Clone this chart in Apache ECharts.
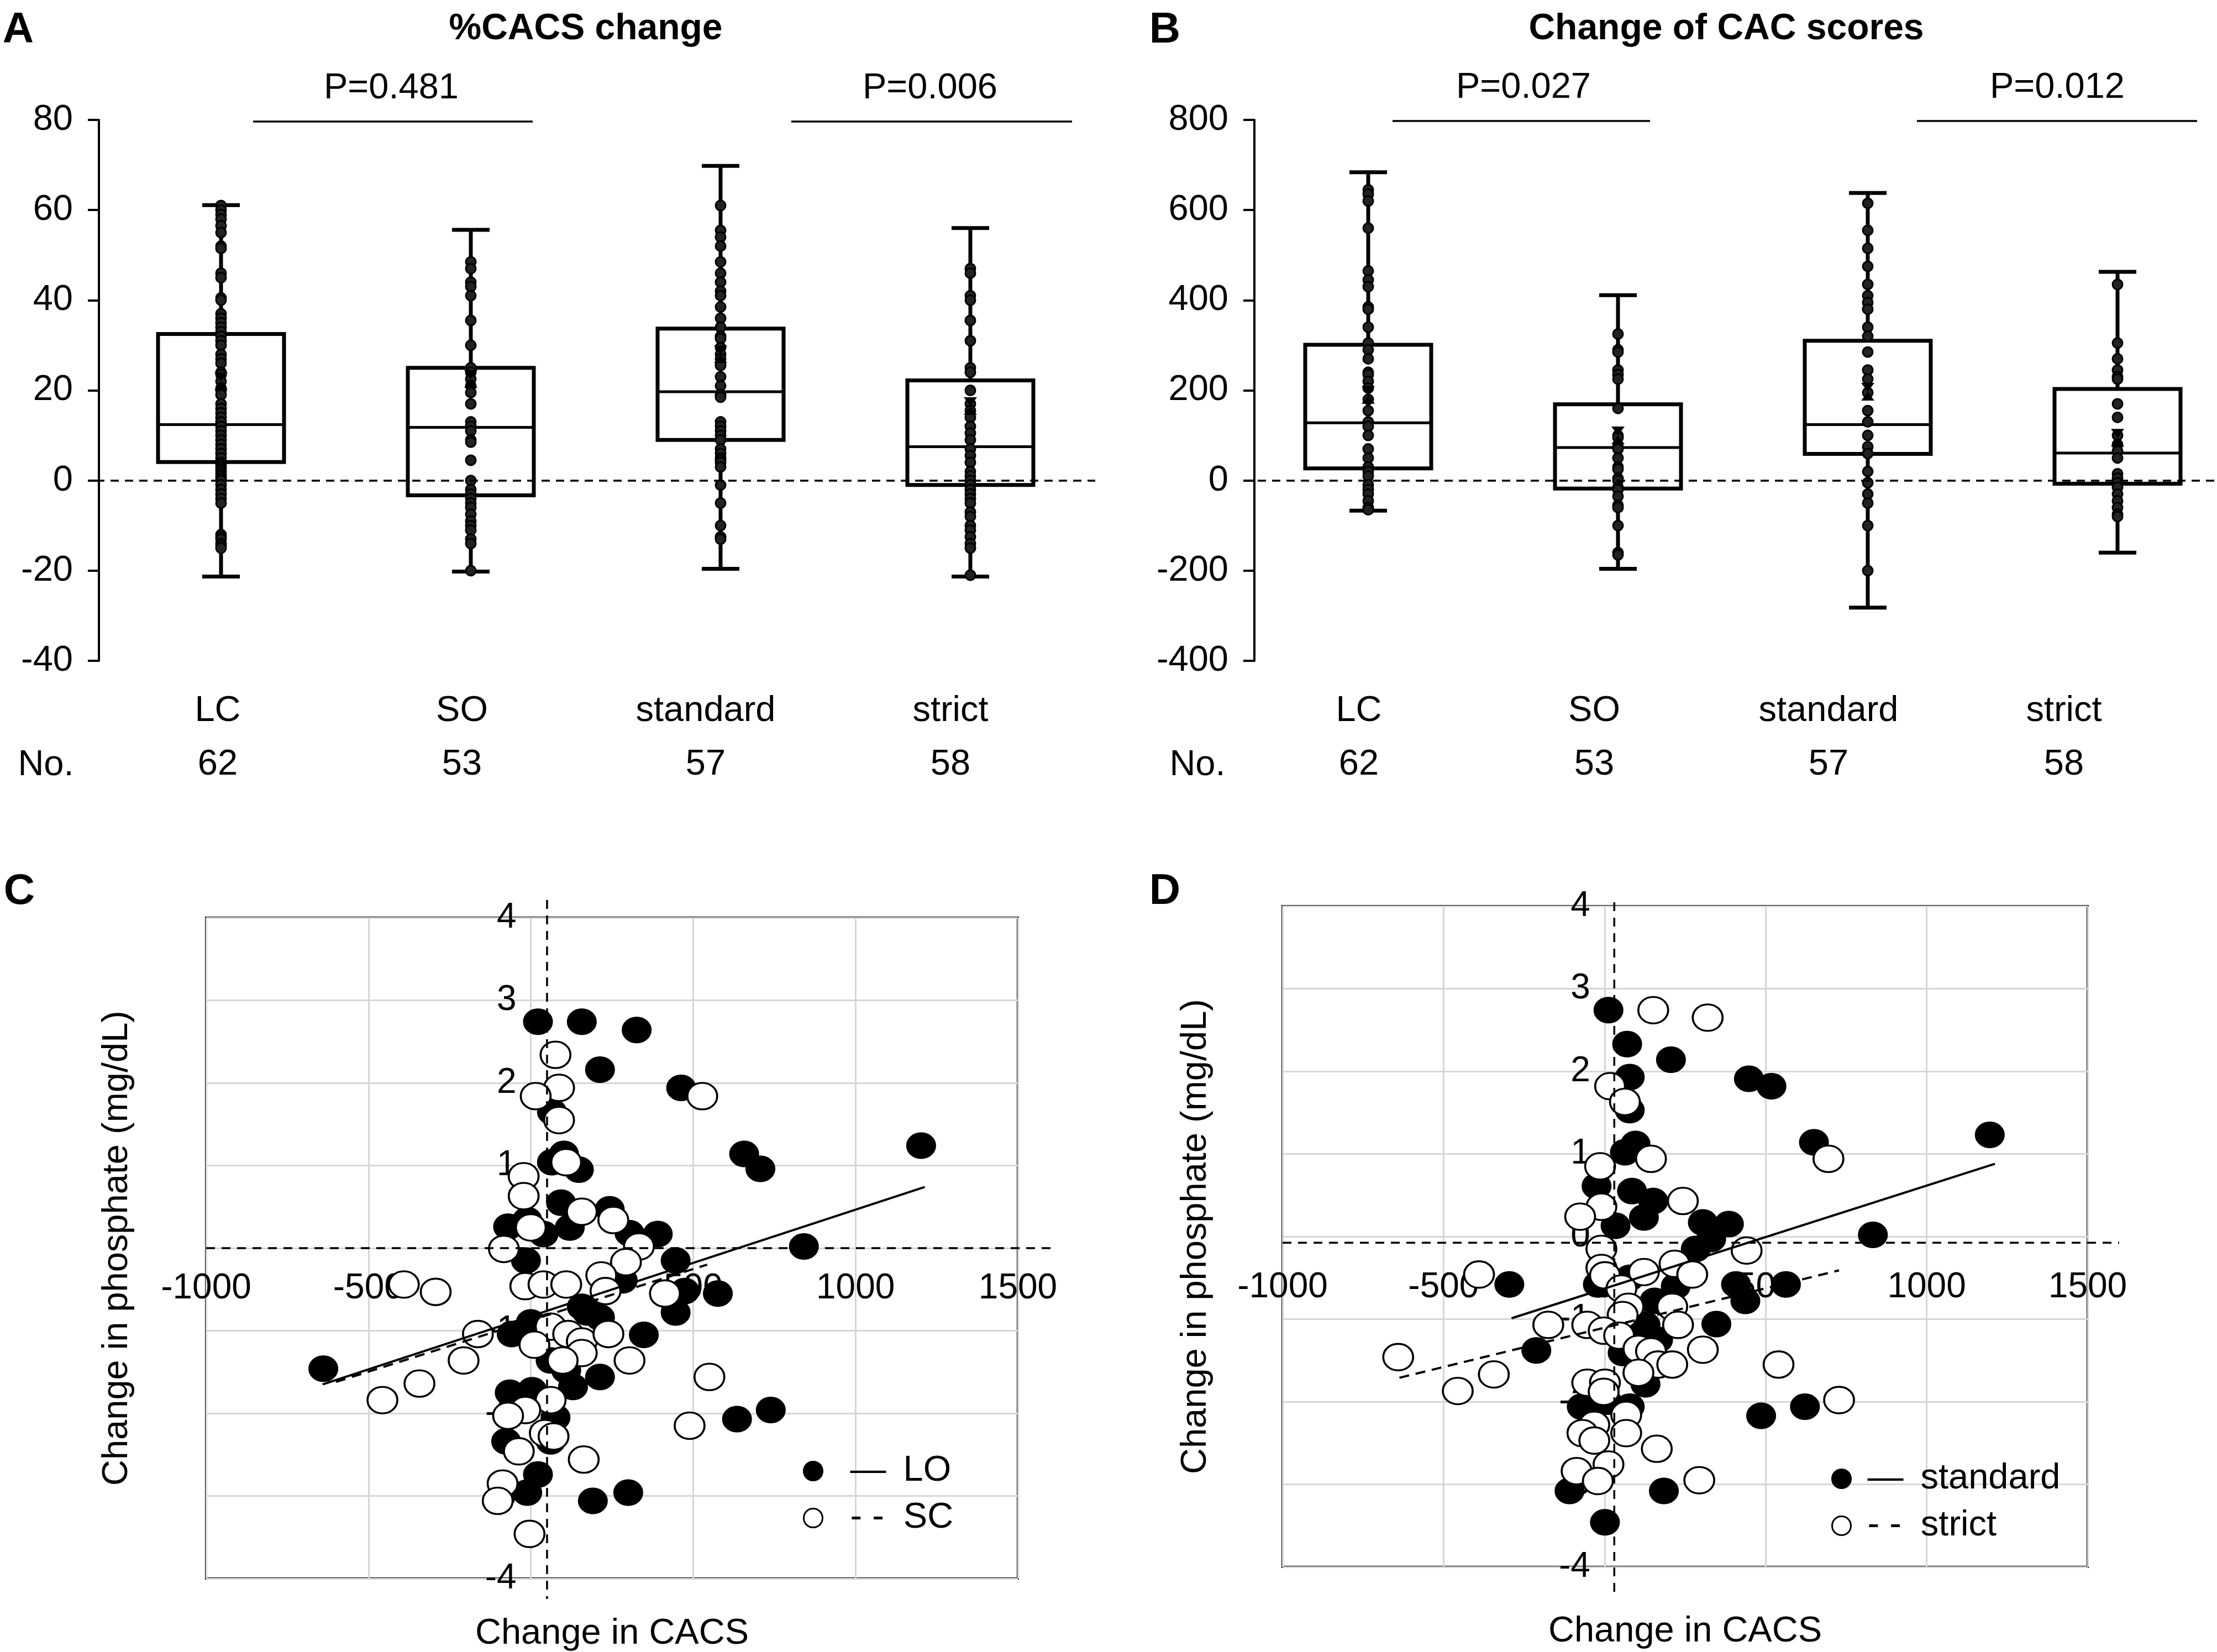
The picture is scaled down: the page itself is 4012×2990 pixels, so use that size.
<!DOCTYPE html>
<html>
<head>
<meta charset="utf-8">
<script src="https://cdn.jsdelivr.net/npm/echarts@6/dist/echarts.min.js"></script>
<style>html,body{margin:0;padding:0;background:#fff}#c{width:4012px;height:2990px}</style>
</head>
<body>
<div id="c"></div>
<script>
// ---------------- DATA ----------------
const groups = ['LC', 'SO', 'standard', 'strict'];
const counts = [62, 53, 57, 58];

// Panel A: %CACS change, box stats [lowWhisker, Q1, median, Q3, highWhisker]
const pctBoxLC = [-21.3, 4.1, 12.4, 32.5, 61.1];
const pctBoxSO = [-20.2, -3.3, 11.8, 25, 55.6];
const pctBoxStd = [-19.6, 9, 19.7, 33.7, 69.8];
const pctBoxStrict = [-21.3, -1, 7.5, 22.2, 56];
const pctMeans = [22, 22.5, 28, 16.5];
const pctLC = [61, 60, 59, 58, 56.5, 55, 52, 51.5, 46, 45, 40.5, 40, 37, 36, 35, 34, 33, 32, 31, 30, 28, 27, 26, 24, 23.5, 22, 20.5, 20, 19, 17, 16, 15, 14, 13, 12, 11, 10, 9, 8, 7, 6, 5, 4, 3.5, 3, 2.5, 2, 1.5, 1, 0.5, 0, -1, -2, -3, -4, -5, -12, -12.5, -13, -14, -14.5, -15];
const pctSO = [48.5, 47, 44, 43, 41, 35.5, 30, 25, 24, 22.5, 21, 19.5, 17, 13, 12, 11, 9, 8.5, 4.5, 0, -2, -3, -4, -5, -6, -7.5, -9, -10, -11, -13, -14, -20];
const pctStd = [61, 55.5, 54, 52, 48.5, 46, 44, 42, 41, 38.5, 36, 34, 32, 31.5, 29.5, 28, 27, 25.5, 23, 21, 19, 18.5, 13, 12, 11, 10, 9, 7, 6, 5, 4.5, 4, 3, -1, -5, -10, -12.5, -13];
const pctStrict = [47, 46, 41, 40, 35.5, 31, 25, 24, 20, 17, 15.5, 14, 12, 10.5, 9, 7, 5.5, 4, 2, 1, 0, -1, -2, -3, -4, -5, -7, -8, -10, -11, -12.5, -14, -15, -21];

// Panel B: change of CAC scores
const cacBoxLC = [-67, 27, 128, 301, 684];
const cacBoxSO = [-196, -18, 73, 169, 411];
const cacBoxStd = [-282, 59, 124, 310, 638];
const cacBoxStrict = [-160, -7, 61, 203, 463];
const cacMeans = [190, 100, 197, 95];
const cacLC = [645, 635, 620, 560, 465, 445, 430, 385, 380, 340, 305, 290, 270, 240, 235, 220, 205, 180, 155, 130, 120, 100, 70, 50, 30, 20, 10, -10, -20, -30, -45, -60, -65];
const cacSO = [325, 290, 285, 245, 235, 225, 160, 100, 95, 75, 70, 50, 30, 25, 5, 0, -15, -20, -35, -55, -60, -100, -160, -165];
const cacStd = [615, 555, 515, 475, 435, 410, 395, 380, 340, 320, 285, 245, 225, 195, 155, 130, 100, 75, 60, 20, -5, -30, -50, -100, -200];
const cacStrict = [435, 305, 270, 245, 230, 225, 170, 140, 100, 80, 65, 50, 15, 5, -5, -15, -30, -45, -60, -75, -80];

const pValsA = ['P=0.481', 'P=0.006'];
const pValsB = ['P=0.027', 'P=0.012'];

// Panel C: [change in CACS, change in phosphate]
const cLO = [[22,2.74],[157,2.74],[326,2.64],[213,2.16],[463,1.94],[1202,1.24],[657,1.14],[707,0.96],[65,1.65],[102,1.14],[65,1.04],[148,0.95],[93,0.55],[120,0.25],[-70,0.26],[-11,0.34],[39,0.17],[243,0.47],[304,0.18],[391,0.17],[841,0.02],[446,-0.15],[-15,-0.15],[283,-0.39],[474,-0.52],[576,-0.55],[446,-0.78],[157,-0.71],[213,-0.84],[348,-1.05],[-59,-1.04],[0,-0.9],[-639,-1.46],[61,-1.36],[130,-1.68],[213,-1.56],[-65,-1.75],[4,-1.72],[635,-2.07],[739,-1.96],[76,-2.05],[-76,-2.34],[61,-2.34],[22,-2.74],[-11,-2.96],[191,-3.06],[300,-2.96],[174,-0.78],[109,-1.48]];
const cSC = [[76,2.34],[87,1.94],[15,1.84],[528,1.84],[87,1.55],[109,1.04],[-22,0.87],[-22,0.63],[0,0.25],[157,0.44],[254,0.34],[333,0.02],[-83,-0.01],[293,-0.17],[217,-0.33],[-391,-0.44],[-293,-0.53],[-17,-0.46],[39,-0.44],[109,-0.44],[230,-0.52],[413,-0.55],[-163,-1.04],[-207,-1.36],[61,-0.95],[11,-1.17],[115,-1.04],[157,-1.13],[239,-1.04],[157,-1.27],[98,-1.36],[304,-1.36],[550,-1.56],[-343,-1.64],[-457,-1.84],[61,-1.84],[-17,-1.96],[-70,-2.03],[489,-2.15],[43,-2.24],[70,-2.28],[-37,-2.46],[163,-2.56],[-87,-2.85],[-102,-3.06],[-4,-3.46]];
const cLOFit = [[-641,-1.65],[1213,0.74]];
const cSCFit = [[-600,-1.62],[543,-0.2]];
const cRefX = 50, cRefY = 0;

// Panel D
const dStd = [[12,2.74],[70,2.33],[206,2.14],[78,1.93],[448,1.91],[518,1.82],[78,1.53],[1196,1.23],[650,1.14],[96,1.12],[63,1.02],[-25,0.61],[85,0.55],[151,0.43],[122,0.23],[34,0.13],[305,0.17],[386,0.15],[331,-0.03],[833,0.02],[283,-0.15],[-296,-0.58],[-21,-0.58],[78,-0.5],[221,-0.6],[408,-0.58],[563,-0.58],[437,-0.78],[155,-0.78],[347,-1.06],[127,-1.07],[166,-1.25],[-212,-1.38],[56,-1.41],[127,-1.79],[-71,-2.06],[8,-2.0],[78,-2.06],[486,-2.17],[622,-2.06],[-109,-3.08],[184,-3.08],[1,-3.46],[100,-1.04]];
const dStrict = [[151,2.74],[320,2.65],[17,1.82],[63,1.63],[695,0.94],[144,0.94],[-14,0.85],[-10,0.36],[-76,0.24],[243,0.43],[441,-0.17],[-10,-0.15],[-10,-0.38],[217,-0.33],[272,-0.46],[-390,-0.46],[122,-0.43],[1,-0.47],[52,-0.63],[74,-0.85],[210,-0.85],[56,-0.95],[228,-1.07],[-175,-1.07],[-54,-1.07],[-3,-1.14],[45,-1.2],[105,-1.36],[144,-1.39],[305,-1.37],[-641,-1.46],[-344,-1.67],[166,-1.55],[210,-1.55],[540,-1.55],[105,-1.65],[-54,-1.77],[1,-1.77],[-456,-1.87],[-3,-1.88],[728,-1.98],[67,-2.16],[-32,-2.28],[-69,-2.38],[67,-2.38],[-32,-2.47],[162,-2.57],[12,-2.76],[-87,-2.84],[-21,-2.96],[294,-2.95]];
const dStdFit = [[-289,-0.99],[1212,0.88]];
const dStrictFit = [[-637,-1.71],[728,-0.41]];
const dRefX = 30, dRefY = -0.076;

// ---------------- CHART ----------------
const FONT = "'Liberation Sans', Arial, Helvetica, sans-serif";
const ellipse = 'path://M0,50C0,22 22,0 50,0C78,0 100,22 100,50C100,78 78,100 50,100C22,100 0,78 0,50Z';
const hourglass = 'path://M0,0L100,0L50,50L100,100L0,100L50,50Z';

const chart = echarts.init(document.getElementById('c'), null, {renderer: 'canvas', width: 4012, height: 2990});

function boxData(stats) { return stats.map((s, i) => [i].concat(s)); }
function dotData(lists) { const out = []; lists.forEach((l, i) => l.forEach(v => out.push([i, v]))); return out; }
function meanData(m) { return m.map((v, i) => [i, v]); }

function boxRender(params, api) {
  const i = api.value(0);
  const lo = api.coord([i, api.value(1)]);
  const q1 = api.coord([i, api.value(2)]);
  const md = api.coord([i, api.value(3)]);
  const q3 = api.coord([i, api.value(4)]);
  const hi = api.coord([i, api.value(5)]);
  const cx = lo[0], hw = 114, cw = 34;
  const st = {stroke: '#000', lineWidth: 7, fill: null};
  return {type: 'group', children: [
    {type: 'rect', shape: {x: cx - hw, y: q3[1], width: 2 * hw, height: q1[1] - q3[1]}, style: {stroke: '#000', lineWidth: 7, fill: 'rgba(0,0,0,0)'}},
    {type: 'line', shape: {x1: cx - hw, y1: md[1], x2: cx + hw, y2: md[1]}, style: {stroke: '#000', lineWidth: 5, fill: null}},
    {type: 'line', shape: {x1: cx, y1: q3[1], x2: cx, y2: hi[1]}, style: st},
    {type: 'line', shape: {x1: cx, y1: q1[1], x2: cx, y2: lo[1]}, style: st},
    {type: 'line', shape: {x1: cx - cw, y1: hi[1], x2: cx + cw, y2: hi[1]}, style: st},
    {type: 'line', shape: {x1: cx - cw, y1: lo[1], x2: cx + cw, y2: lo[1]}, style: st}
  ]};
}

function catAxis(gi, pads) {
  const rich = {};
  pads.forEach((p, i) => {
    rich['n' + i] = {fontSize: 65, fontFamily: FONT, color: '#000', lineHeight: 97, padding: [0, p, 0, 0]};
    rich['c' + i] = {fontSize: 65, fontFamily: FONT, color: '#000', lineHeight: 97, padding: [0, p, 0, 0]};
  });
  return {
    type: 'category', gridIndex: gi, data: groups,
    axisLine: {show: false, onZero: false}, axisTick: {show: false}, splitLine: {show: false},
    axisLabel: {margin: 43, interval: 0, formatter: (v, i) => '{n' + i + '|' + v + '}\n{c' + i + '|' + counts[i] + '}', rich: rich}
  };
}
function boxYAxis(gi, min, max, interval, offset) {
  return {
    type: 'value', gridIndex: gi, min: min, max: max, interval: interval, offset: offset,
    axisLine: {show: true, onZero: false, lineStyle: {color: '#000', width: 4}},
    axisTick: {show: true, length: 20, lineStyle: {color: '#000', width: 4}},
    splitLine: {show: false},
    axisLabel: {fontSize: 65, fontFamily: FONT, color: '#000', margin: 47, formatter: v => String(v)}
  };
}
// scatter axes cross at zero: placed with offsets from the grid edge
function scX(gi, offset, margin, nameGap) {
  return {
    type: 'value', gridIndex: gi, min: -1000, max: 1500, interval: 500, position: 'bottom', offset: offset,
    axisLine: {show: false, onZero: false}, axisTick: {show: false},
    splitLine: {show: true, lineStyle: {color: '#d6d6d6', width: 3}},
    axisLabel: {fontSize: 64, fontFamily: FONT, color: '#000', margin: margin, formatter: v => String(v)},
    name: 'Change in CACS', nameLocation: 'middle', nameGap: nameGap,
    nameTextStyle: {fontSize: 65, fontFamily: FONT, color: '#000'}
  };
}
function scY(gi, offset, nameGap) {
  return {
    type: 'value', gridIndex: gi, min: -4, max: 4, interval: 1, position: 'left', offset: offset,
    axisLine: {show: false, onZero: false}, axisTick: {show: false},
    splitLine: {show: true, lineStyle: {color: '#d6d6d6', width: 3}},
    axisLabel: {fontSize: 64, fontFamily: FONT, color: '#000', margin: 26, formatter: v => String(v)},
    name: 'Change in phosphate (mg/dL)', nameLocation: 'middle', nameGap: nameGap,
    nameTextStyle: {fontSize: 65, fontFamily: FONT, color: '#000'}
  };
}

const dotStyle = {color: '#222', borderColor: '#000', borderWidth: 3, opacity: 1};
const zeroLine = {silent: true, symbol: 'none', label: {show: false}, lineStyle: {color: '#000', width: 3.5, type: [15, 11]}, data: [{yAxis: 0}]};

function boxSeries(xi, stats, lists, means) {
  return [
    {type: 'custom', xAxisIndex: xi, yAxisIndex: xi, renderItem: boxRender, data: boxData(stats), encode: {x: 0, y: [1, 2, 3, 4, 5]}, z: 2},
    {type: 'scatter', xAxisIndex: xi, yAxisIndex: xi, data: dotData(lists), symbol: 'circle', symbolSize: 18, itemStyle: dotStyle, z: 3, markLine: zeroLine},
    {type: 'scatter', xAxisIndex: xi, yAxisIndex: xi, data: meanData(means), symbol: hourglass, symbolSize: [24, 32], itemStyle: {color: '#000', opacity: 1}, z: 4}
  ];
}
function ptSeries(xi, name, data, filled) {
  return {type: 'scatter', name: name, xAxisIndex: xi, yAxisIndex: xi, data: data, symbol: ellipse, symbolSize: [54, 48],
    itemStyle: filled ? {color: '#000', borderColor: '#000', borderWidth: 0, opacity: 1} : {color: '#fff', borderColor: '#000', borderWidth: 3.5, opacity: 1}, z: filled ? 3 : 4};
}
function fitSeries(xi, name, data, dashed) {
  return {type: 'line', name: name, xAxisIndex: xi, yAxisIndex: xi, data: data, symbol: 'none', showSymbol: false,
    lineStyle: {color: '#000', width: 4, type: dashed ? [18, 12] : 'solid'}, z: 5, silent: true};
}

function legendCfg(names, left, top, padL) {
  return {
    data: names.map(n => ({name: n, icon: ellipse})), orient: 'vertical', left: left, top: top,
    itemWidth: 34, itemHeight: 42, itemGap: 20, selectedMode: false,
    itemStyle: {borderWidth: 3},
    formatter: n => (n === names[0] ? '{sol|—}' : '{das|- -}') + '{n|' + n + '}',
    textStyle: {fontSize: 65, fontFamily: FONT, color: '#000', rich: {
      sol: {fontSize: 65, fontFamily: FONT, lineHeight: 76, padding: [0, 31, 0, padL]},
      das: {fontSize: 65, fontFamily: FONT, lineHeight: 76, padding: [0, 35, 0, padL]},
      n: {fontSize: 65, fontFamily: FONT, lineHeight: 76}
    }}
  };
}

function txt(t, x, y, size, bold) {
  return {type: 'text', x: x, y: y, silent: true, style: {text: t, fontSize: size, fontFamily: FONT, fontWeight: bold ? 'bold' : 'normal', fill: '#000', align: 'center', verticalAlign: 'middle', textAlign: 'center', textVerticalAlign: 'middle'}};
}
function hline(x1, x2, y) {
  return {type: 'line', silent: true, shape: {x1: x1, y1: y, x2: x2, y2: y}, style: {stroke: '#000', lineWidth: 3.5}};
}

// grid geometry for C and D
const gC = {left: 373, top: 1661, width: 1469, height: 1196};
const gD = {left: 2321, top: 1640, width: 1457, height: 1196};
const zeroOff = (g) => ({
  x: -(g.height / 2),                 // y = 0 sits in the middle of [-4, 4]
  y: -(g.width * 1000 / 2500)         // x = 0 sits 1000/2500 of the way across [-1000, 1500]
});
const oC = zeroOff(gC), oD = zeroOff(gD);

const option = {
  animation: false,
  backgroundColor: '#fff',
  textStyle: {fontFamily: FONT},
  grid: [
    {left: 174, top: 217, width: 1808, height: 979, outerBoundsMode: 'none'},
    {left: 2250, top: 217, width: 1808, height: 979, outerBoundsMode: 'none'},
    Object.assign({show: true, borderColor: '#000', borderWidth: 4, backgroundColor: 'rgba(0,0,0,0)', outerBoundsMode: 'none'}, gC),
    Object.assign({show: true, borderColor: '#000', borderWidth: 4, backgroundColor: 'rgba(0,0,0,0)', outerBoundsMode: 'none'}, gD)
  ],
  xAxis: [
    catAxis(0, [12, 32, 54, 72]),
    catAxis(1, [34, 86, 142, 194]),
    scX(2, oC.x, 41, 666),
    scX(3, oD.x, 60, 683)
  ],
  yAxis: [
    boxYAxis(0, -40, 80, 20, -5),
    boxYAxis(1, -400, 800, 200, -20),
    scY(2, oC.y, 716),
    scY(3, oD.y, 707)
  ],
  legend: [
    legendCfg(['LO', 'SC'], 1448, 2625, 45),
    legendCfg(['standard', 'strict'], 3309, 2639, 25)
  ],
  series: [].concat(
    boxSeries(0, [pctBoxLC, pctBoxSO, pctBoxStd, pctBoxStrict], [pctLC, pctSO, pctStd, pctStrict], pctMeans),
    boxSeries(1, [cacBoxLC, cacBoxSO, cacBoxStd, cacBoxStrict], [cacLC, cacSO, cacStd, cacStrict], cacMeans),
    [ptSeries(2, 'LO', cLO, true), ptSeries(2, 'SC', cSC, false), fitSeries(2, 'LO fit', cLOFit, false), fitSeries(2, 'SC fit', cSCFit, true)],
    [ptSeries(3, 'standard', dStd, true), ptSeries(3, 'strict', dStrict, false), fitSeries(3, 'standard fit', dStdFit, false), fitSeries(3, 'strict fit', dStrictFit, true)]
  )
};
chart.setOption(option);

// annotations and reference dashed lines
const g = [
  txt('A', 33, 55, 78, true), txt('B', 2108, 55, 78, true), txt('C', 35, 1614, 78, true), txt('D', 2108, 1614, 78, true),
  txt('%CACS change', 1060, 53, 66, true), txt('Change of CAC scores', 3124, 53, 66, true),
  txt(pValsA[0], 708, 160, 65), txt(pValsA[1], 1683, 160, 65),
  txt(pValsB[0], 2757, 159, 65), txt(pValsB[1], 3723, 159, 65),
  hline(458, 964, 220), hline(1432, 1940, 220), hline(2520, 2986, 219), hline(3469, 3976, 219),
  txt('No.', 83, 1385, 65), txt('No.', 2167, 1385, 65)
];
function refLines(gi, rx, ry, topExt, botExt, rightExt) {
  const p = chart.convertToPixel({gridIndex: gi}, [rx, ry]);
  const tl = chart.convertToPixel({gridIndex: gi}, [-1000, 4]);
  const br = chart.convertToPixel({gridIndex: gi}, [1500, -4]);
  g.push({type: 'line', silent: true, z: 10, shape: {x1: p[0], y1: tl[1] - topExt, x2: p[0], y2: br[1] + botExt}, style: {stroke: '#000', lineWidth: 3.5, lineDash: [16, 12]}});
  g.push({type: 'line', silent: true, z: 10, shape: {x1: tl[0], y1: p[1], x2: br[0] + rightExt, y2: p[1]}, style: {stroke: '#000', lineWidth: 3.5, lineDash: [16, 12]}});
}
refLines(2, cRefX, cRefY, 32, 37, 62);
refLines(3, dRefX, dRefY, 7, 47, 57);
chart.setOption({graphic: g});
</script>
</body>
</html>
